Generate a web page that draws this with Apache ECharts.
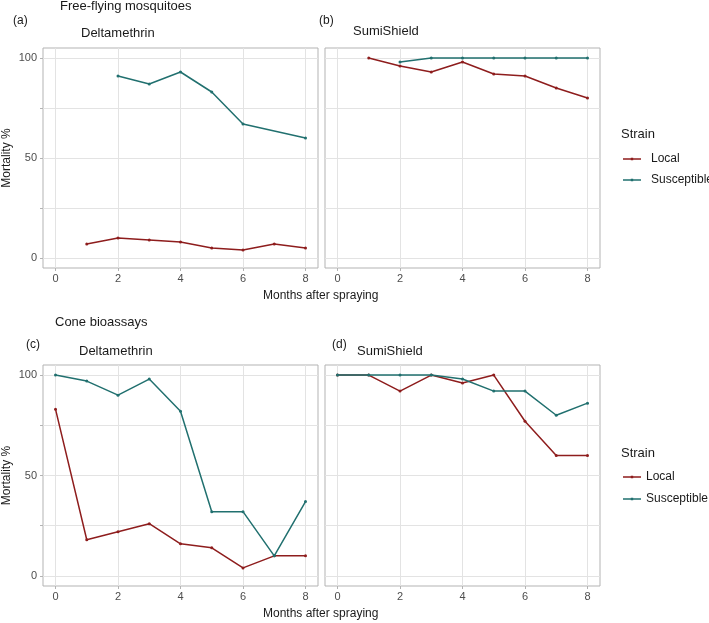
<!DOCTYPE html>
<html>
<head>
<meta charset="utf-8">
<script src="https://cdn.jsdelivr.net/npm/echarts@6/dist/echarts.min.js"></script>
<style>
html,body{margin:0;padding:0;background:#fff;}
#c{width:709px;height:623px;}
</style>
</head>
<body>
<div id="c"></div>
<script>
// ---- data ----
var months = [0, 1, 2, 3, 4, 5, 6, 7, 8];
var xTicks = [0, 2, 4, 6, 8];
var yTicks = [0, 25, 50, 75, 100];
var yLabels = [0, 50, 100];
var strains = ['Local', 'Susceptible'];
var panelLetters = ['(a)', '(b)', '(c)', '(d)'];
var insecticides = ['Deltamethrin', 'SumiShield', 'Deltamethrin', 'SumiShield'];
var sections = ['Free-flying mosquitoes', 'Cone bioassays'];

var freeDeltaLocal = [null, 7, 10, 9, 8, 5, 4, 7, 5];
var freeDeltaSusc  = [null, null, 91, 87, 93, 83, 67, null, 60];
var freeSumiLocal  = [null, 100, 96, 93, 98, 92, 91, 85, 80];
var freeSumiSusc   = [null, null, 98, 100, 100, 100, 100, 100, 100];
var coneDeltaLocal = [83, 18, 22, 26, 16, 14, 4, 10, 10];
var coneDeltaSusc  = [100, 97, 90, 98, 82, 32, 32, 10, 37];
var coneSumiLocal  = [100, 100, 92, 100, 96, 100, 77, 60, 60];
var coneSumiSusc   = [100, 100, 100, 100, 98, 92, 92, 80, 86];

var panelData = [
  [freeDeltaLocal, freeDeltaSusc],
  [freeSumiLocal, freeSumiSusc],
  [coneDeltaLocal, coneDeltaSusc],
  [coneSumiLocal, coneSumiSusc]
];

// ---- styling / layout ----
var colors = {Local: '#8E1D1D', Susceptible: '#21706F'};
var FONT = 'Liberation Sans, Arial, sans-serif';
var gridPos = [
  {left: 43, top: 48, width: 275, height: 220},
  {left: 325, top: 48, width: 275, height: 220},
  {left: 43, top: 365, width: 275, height: 221},
  {left: 325, top: 365, width: 275, height: 221}
];

function pairs(arr) {
  var out = [];
  for (var i = 0; i < months.length; i++) {
    if (arr[i] !== null && arr[i] !== undefined) out.push([months[i], arr[i]]);
  }
  return out;
}

var grids = [], xAxes = [], yAxes = [], series = [];
gridPos.forEach(function (g, i) {
  grids.push({left: g.left, top: g.top, width: g.width, height: g.height,
    show: true, borderColor: '#B3B3B3', borderWidth: 1, backgroundColor: 'transparent'});
  xAxes.push({
    type: 'value', gridIndex: i, min: -0.4, max: 8.4, position: 'bottom',
    axisLine: {show: false, onZero: false},
    axisTick: {show: true, length: 3, lineStyle: {color: '#B3B3B3'}, customValues: xTicks},
    axisLabel: {customValues: xTicks, color: '#4D4D4D', fontSize: 11, fontFamily: FONT, margin: 5},
    splitLine: {show: true, lineStyle: {color: '#E3E3E3', width: 1}}
  });
  yAxes.push({
    type: 'value', gridIndex: i, min: -5, max: 105, position: 'left',
    name: (i % 2 === 0) ? 'Mortality %' : '',
    nameLocation: 'middle', nameGap: 30, nameRotate: 90,
    nameTextStyle: {color: '#1A1A1A', fontSize: 12, fontFamily: FONT},
    axisLine: {show: false, onZero: false},
    axisTick: {show: (i % 2 === 0), length: 3, lineStyle: {color: '#B3B3B3'}, customValues: yTicks},
    axisLabel: {show: (i % 2 === 0), customValues: yLabels, color: '#4D4D4D', fontSize: 11, fontFamily: FONT, margin: 6},
    splitLine: {show: true, lineStyle: {color: '#E3E3E3', width: 1}}
  });
  strains.forEach(function (s, k) {
    series.push({
      type: 'line', name: s, xAxisIndex: i, yAxisIndex: i,
      data: pairs(panelData[i][k]),
      connectNulls: true,
      symbol: 'circle', symbolSize: 3, showSymbol: true,
      lineStyle: {color: colors[s], width: 1.5},
      itemStyle: {color: colors[s]},
      emphasis: {disabled: true},
      animation: false,
      z: 2 + k
    });
  });
});

var titles = [];
function addTitle(text, left, top, size) {
  titles.push({text: text, left: left, top: top, padding: 0,
    textStyle: {fontSize: size, fontWeight: 'normal', color: '#1A1A1A', fontFamily: FONT}});
}
addTitle(sections[0], 60, 0, 13);
addTitle(sections[1], 55, 316, 13);
addTitle(panelLetters[0], 13, 15, 12);
addTitle(panelLetters[1], 319, 15, 12);
addTitle(panelLetters[2], 26, 339, 12);
addTitle(panelLetters[3], 332, 339, 12);
addTitle(insecticides[0], 81, 27, 13);
addTitle(insecticides[1], 353, 25, 13);
addTitle(insecticides[2], 79, 345, 13);
addTitle(insecticides[3], 357, 345, 13);
addTitle('Strain', 621, 128, 13);
addTitle('Strain', 621, 447, 13);
addTitle('Months after spraying', 263, 290, 12);
addTitle('Months after spraying', 263, 608, 12);

// legend icon: thin line with a small dot, padded box so it is not stretched
var LEGEND_ICON = 'path://M0,0L0,0M18,12L18,12M0,5.3H18V6.7H0ZM7.8,4.8H10.2V7.2H7.8Z';

function legend(top, pad, gap) {
  return {
    orient: 'vertical', left: 623, top: top, itemWidth: 18, itemHeight: 12, itemGap: gap,
    data: strains.map(function (s) { return {name: s, icon: LEGEND_ICON}; }),
    selectedMode: false, padding: 0,
    textStyle: {color: '#1A1A1A', fontSize: 12, fontFamily: FONT, padding: [0, 0, 0, pad]}
  };
}

var chart = echarts.init(document.getElementById('c'), null, {renderer: 'canvas'});
chart.setOption({
  backgroundColor: '#fff',
  animation: false,
  title: titles,
  legend: [legend(153, 5, 9), legend(471, 0, 10)],
  grid: grids,
  xAxis: xAxes,
  yAxis: yAxes,
  series: series
});
</script>
</body>
</html>
